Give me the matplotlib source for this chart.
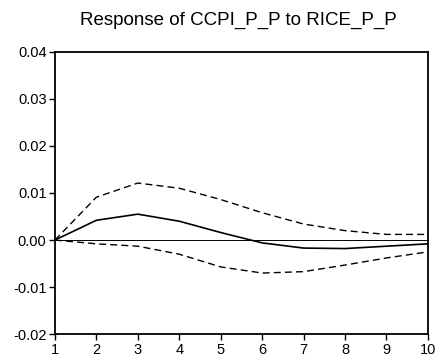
import numpy as np
import matplotlib
matplotlib.use("Agg")
import matplotlib.pyplot as plt

plt.rcParams['font.family'] = ['Liberation Sans', 'DejaVu Sans']

periods = [1, 2, 3, 4, 5, 6, 7, 8, 9, 10]
response = [0.0, 0.0042, 0.0055, 0.0040, 0.0016, -0.0006, -0.0017, -0.0018, -0.0013, -0.0008]
upper = [0.0, 0.0091, 0.0121, 0.0110, 0.0086, 0.0058, 0.0034, 0.0020, 0.0012, 0.0012]
lower = [0.0, -0.0008, -0.0013, -0.0030, -0.0057, -0.0070, -0.0067, -0.0053, -0.0038, -0.0025]
yticks = [-0.02, -0.01, 0.00, 0.01, 0.02, 0.03, 0.04]

fig = plt.figure(figsize=(4.43, 3.62), dpi=100)
ax = fig.add_axes([0.124, 0.0765, 0.842, 0.781])

ax.axhline(0, color='black', lw=0.7)
ax.plot(periods, response, color='black', lw=1.2)
ax.plot(periods, upper, color='black', lw=1.0, ls=(0, (5, 3)))
ax.plot(periods, lower, color='black', lw=1.0, ls=(0, (5, 3)))

ax.set_xlim(1, 10)
ax.set_ylim(-0.02, 0.04)
ax.set_xticks(periods)
ax.set_yticks(yticks)
ax.set_yticklabels(['%.2f' % v for v in yticks])
ax.tick_params(direction='out', length=4, width=1, labelsize=10.5, pad=2,
               top=False, right=False)
for s in ax.spines.values():
    s.set_linewidth(1.3)

fig.text(0.538, 0.931, 'Response of CCPI_P_P to RICE_P_P', ha='center', va='baseline', fontsize=13.5)

fig.savefig('out.png', dpi=100)
